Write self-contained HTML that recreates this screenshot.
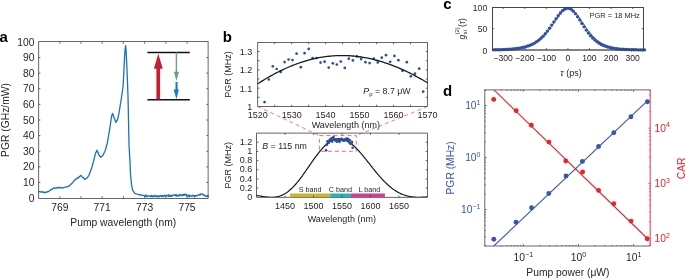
<!DOCTYPE html>
<html><head><meta charset="utf-8"><style>
html,body{margin:0;padding:0;background:#fff;overflow:hidden}
svg{display:block;font-family:"Liberation Sans", sans-serif;will-change:transform}
</style></head><body>
<svg width="685" height="278" viewBox="0 0 685 278" font-family='"Liberation Sans", sans-serif'>
<rect width="685" height="278" fill="#fff"/>
<rect x="38.70" y="41.50" width="169.40" height="157.00" fill="none" stroke="#404040" stroke-width="0.8"/>
<line x1="59.80" y1="198.10" x2="59.80" y2="196.30" stroke="#404040" stroke-width="0.8" />
<line x1="59.80" y1="41.90" x2="59.80" y2="43.70" stroke="#404040" stroke-width="0.8" />
<line x1="81.00" y1="198.10" x2="81.00" y2="196.30" stroke="#404040" stroke-width="0.8" />
<line x1="81.00" y1="41.90" x2="81.00" y2="43.70" stroke="#404040" stroke-width="0.8" />
<line x1="102.20" y1="198.10" x2="102.20" y2="196.30" stroke="#404040" stroke-width="0.8" />
<line x1="102.20" y1="41.90" x2="102.20" y2="43.70" stroke="#404040" stroke-width="0.8" />
<line x1="123.40" y1="198.10" x2="123.40" y2="196.30" stroke="#404040" stroke-width="0.8" />
<line x1="123.40" y1="41.90" x2="123.40" y2="43.70" stroke="#404040" stroke-width="0.8" />
<line x1="144.60" y1="198.10" x2="144.60" y2="196.30" stroke="#404040" stroke-width="0.8" />
<line x1="144.60" y1="41.90" x2="144.60" y2="43.70" stroke="#404040" stroke-width="0.8" />
<line x1="165.80" y1="198.10" x2="165.80" y2="196.30" stroke="#404040" stroke-width="0.8" />
<line x1="165.80" y1="41.90" x2="165.80" y2="43.70" stroke="#404040" stroke-width="0.8" />
<line x1="187.00" y1="198.10" x2="187.00" y2="196.30" stroke="#404040" stroke-width="0.8" />
<line x1="187.00" y1="41.90" x2="187.00" y2="43.70" stroke="#404040" stroke-width="0.8" />
<text x="59.80" y="211.10" font-size="10.3" text-anchor="middle" fill="#262626" font-weight="normal" font-style="normal" >769</text>
<text x="102.20" y="211.10" font-size="10.3" text-anchor="middle" fill="#262626" font-weight="normal" font-style="normal" >771</text>
<text x="144.60" y="211.10" font-size="10.3" text-anchor="middle" fill="#262626" font-weight="normal" font-style="normal" >773</text>
<text x="187.00" y="211.10" font-size="10.3" text-anchor="middle" fill="#262626" font-weight="normal" font-style="normal" >775</text>
<text x="34.40" y="201.70" font-size="10.3" text-anchor="end" fill="#262626" font-weight="normal" font-style="normal" >0</text>
<line x1="38.60" y1="182.48" x2="40.40" y2="182.48" stroke="#404040" stroke-width="0.8" />
<line x1="208.20" y1="182.48" x2="206.40" y2="182.48" stroke="#404040" stroke-width="0.8" />
<text x="34.40" y="186.08" font-size="10.3" text-anchor="end" fill="#262626" font-weight="normal" font-style="normal" >10</text>
<line x1="38.60" y1="166.86" x2="40.40" y2="166.86" stroke="#404040" stroke-width="0.8" />
<line x1="208.20" y1="166.86" x2="206.40" y2="166.86" stroke="#404040" stroke-width="0.8" />
<text x="34.40" y="170.46" font-size="10.3" text-anchor="end" fill="#262626" font-weight="normal" font-style="normal" >20</text>
<line x1="38.60" y1="151.24" x2="40.40" y2="151.24" stroke="#404040" stroke-width="0.8" />
<line x1="208.20" y1="151.24" x2="206.40" y2="151.24" stroke="#404040" stroke-width="0.8" />
<text x="34.40" y="154.84" font-size="10.3" text-anchor="end" fill="#262626" font-weight="normal" font-style="normal" >30</text>
<line x1="38.60" y1="135.62" x2="40.40" y2="135.62" stroke="#404040" stroke-width="0.8" />
<line x1="208.20" y1="135.62" x2="206.40" y2="135.62" stroke="#404040" stroke-width="0.8" />
<text x="34.40" y="139.22" font-size="10.3" text-anchor="end" fill="#262626" font-weight="normal" font-style="normal" >40</text>
<line x1="38.60" y1="120.00" x2="40.40" y2="120.00" stroke="#404040" stroke-width="0.8" />
<line x1="208.20" y1="120.00" x2="206.40" y2="120.00" stroke="#404040" stroke-width="0.8" />
<text x="34.40" y="123.60" font-size="10.3" text-anchor="end" fill="#262626" font-weight="normal" font-style="normal" >50</text>
<line x1="38.60" y1="104.38" x2="40.40" y2="104.38" stroke="#404040" stroke-width="0.8" />
<line x1="208.20" y1="104.38" x2="206.40" y2="104.38" stroke="#404040" stroke-width="0.8" />
<text x="34.40" y="107.98" font-size="10.3" text-anchor="end" fill="#262626" font-weight="normal" font-style="normal" >60</text>
<line x1="38.60" y1="88.76" x2="40.40" y2="88.76" stroke="#404040" stroke-width="0.8" />
<line x1="208.20" y1="88.76" x2="206.40" y2="88.76" stroke="#404040" stroke-width="0.8" />
<text x="34.40" y="92.36" font-size="10.3" text-anchor="end" fill="#262626" font-weight="normal" font-style="normal" >70</text>
<line x1="38.60" y1="73.14" x2="40.40" y2="73.14" stroke="#404040" stroke-width="0.8" />
<line x1="208.20" y1="73.14" x2="206.40" y2="73.14" stroke="#404040" stroke-width="0.8" />
<text x="34.40" y="76.74" font-size="10.3" text-anchor="end" fill="#262626" font-weight="normal" font-style="normal" >80</text>
<line x1="38.60" y1="57.52" x2="40.40" y2="57.52" stroke="#404040" stroke-width="0.8" />
<line x1="208.20" y1="57.52" x2="206.40" y2="57.52" stroke="#404040" stroke-width="0.8" />
<text x="34.40" y="61.12" font-size="10.3" text-anchor="end" fill="#262626" font-weight="normal" font-style="normal" >90</text>
<text x="34.40" y="45.50" font-size="10.3" text-anchor="end" fill="#262626" font-weight="normal" font-style="normal" >100</text>
<text x="123.30" y="226.10" font-size="10.3" text-anchor="middle" fill="#262626" font-weight="normal" font-style="normal" >Pump wavelength (nm)</text>
<text transform="translate(8.6,120) rotate(-90)" font-size="10.3" text-anchor="middle" fill="#262626">PGR (GHz/mW)</text>
<text x="-0.60" y="41.50" font-size="15" text-anchor="start" fill="#000" font-weight="bold" font-style="normal" >a</text>
<polyline points="38.60,191.40 39.08,191.28 39.56,191.68 40.04,191.64 40.52,191.97 41.00,192.00 41.50,192.17 42.00,191.72 42.50,191.73 43.00,192.53 43.50,192.07 44.00,192.10 44.50,192.40 44.96,192.76 45.41,192.20 45.87,192.45 46.33,192.04 46.79,192.10 47.24,191.57 47.70,191.80 48.17,191.62 48.63,191.53 49.10,190.92 49.57,190.82 50.03,190.45 50.50,190.00 51.02,189.33 51.54,189.67 52.06,189.24 52.58,188.70 53.10,188.60 53.64,188.02 54.18,188.61 54.72,188.10 55.26,188.16 55.80,187.80 56.25,188.09 56.70,187.89 57.15,188.03 57.60,187.51 58.05,187.82 58.50,187.50 58.98,187.49 59.46,187.98 59.93,187.97 60.41,187.32 60.89,187.39 61.37,187.51 61.84,188.23 62.32,187.80 62.80,187.90 63.26,187.89 63.71,187.46 64.17,187.52 64.63,187.28 65.09,187.12 65.54,187.21 66.00,187.00 66.50,186.88 67.00,186.96 67.50,186.56 68.00,186.59 68.50,186.00 68.97,186.05 69.45,185.89 69.93,185.33 70.40,184.90 70.93,184.00 71.45,184.02 71.97,183.52 72.50,182.50 73.05,182.21 73.60,181.26 74.15,180.74 74.70,179.90 75.16,179.34 75.61,179.60 76.07,179.07 76.53,178.51 76.99,178.01 77.44,178.42 77.90,177.80 78.37,177.93 78.84,176.80 79.31,177.13 79.79,176.46 80.26,175.91 80.73,175.73 81.20,175.60 81.80,176.48 82.40,177.20 83.00,177.50 83.50,177.59 84.00,178.60 84.50,178.59 85.00,179.50 85.60,179.20 86.20,178.35 86.80,178.00 87.28,177.74 87.75,177.23 88.22,176.20 88.70,175.60 89.27,174.68 89.83,172.70 90.40,171.50 90.93,169.62 91.47,168.59 92.00,167.00 92.47,164.83 92.95,163.23 93.43,161.67 93.90,160.00 94.40,158.10 94.90,155.69 95.40,154.00 95.90,152.32 96.40,151.80 96.90,150.20 97.45,151.18 98.00,152.50 98.55,154.21 99.10,155.10 99.67,156.19 100.23,156.46 100.80,157.30 101.35,156.71 101.90,156.22 102.45,155.78 103.00,155.10 103.53,154.11 104.05,153.00 104.57,151.98 105.10,150.80 105.65,149.30 106.20,147.01 106.75,145.04 107.30,143.20 107.85,140.17 108.40,136.51 108.95,133.35 109.50,130.30 110.03,127.21 110.55,123.27 111.07,119.77 111.60,116.20 112.15,114.36 112.70,113.40 113.20,114.99 113.70,116.81 114.20,118.40 114.73,119.23 115.27,121.04 115.80,122.20 116.37,121.59 116.93,120.34 117.50,120.00 118.05,117.61 118.60,115.00 119.05,112.42 119.50,109.90 119.95,107.11 120.40,104.00 121.10,100.00 122.30,92.00 123.20,85.00 123.90,70.00 124.60,56.00 125.20,48.50 125.60,45.60 126.00,49.00 126.40,57.00 127.00,70.00 127.60,85.00 128.10,100.00 128.50,120.00 129.00,145.00 129.90,160.00 130.50,174.40 131.50,184.40 132.60,190.20 134.80,193.30 138.40,194.50 144.10,195.60 144.40,195.56 144.80,196.23 145.20,196.32 145.60,195.07 146.00,195.17 146.40,196.31 146.80,196.86 147.20,195.61 147.60,196.02 148.00,196.30 148.40,195.84 148.80,195.95 149.20,195.90 149.60,196.03 150.00,196.47 150.40,195.94 150.80,196.07 151.20,196.78 151.60,195.43 152.00,196.40 152.40,196.70 152.80,195.93 153.20,195.77 153.60,196.81 154.00,195.79 154.40,195.69 154.80,196.14 155.20,196.60 155.60,195.53 156.00,195.92 156.40,195.94 156.80,196.83 157.20,196.12 157.60,196.86 158.00,195.62 158.40,195.92 158.80,196.48 159.20,196.90 159.60,196.12 160.00,195.71 160.40,195.49 160.80,196.19 161.20,195.55 161.60,196.63 162.00,196.66 162.40,195.45 162.80,195.59 163.20,196.51 163.60,196.19 164.00,196.45 164.40,195.59 164.80,195.17 165.20,195.44 165.60,196.31 166.00,195.34 166.40,195.44 166.80,195.54 167.20,195.52 167.60,195.47 168.00,196.36 168.40,194.97 168.80,194.69 169.20,196.36 169.60,196.24 170.00,196.42 170.40,195.41 170.80,196.33 171.20,196.28 171.60,195.00 172.00,195.93 172.40,196.08 172.80,195.76 173.20,195.49 173.60,195.06 174.00,195.14 174.40,194.93 174.80,194.63 175.20,195.55 175.60,195.00 176.00,195.93 176.40,194.53 176.80,196.07 177.20,195.68 177.60,196.08 178.00,196.01 178.40,196.01 178.80,195.41 179.20,194.38 179.60,195.69 180.00,194.64 180.40,194.86 180.80,195.50 181.20,195.21 181.60,194.94 182.00,195.82 182.40,195.16 182.80,194.60 183.20,194.37 183.60,195.40 184.00,194.63 184.40,195.11 184.80,194.27 185.20,194.04 185.60,194.80 186.00,195.47 186.40,194.47 186.80,195.75 187.20,196.14 187.60,196.09 188.00,196.28 188.40,194.97 188.80,196.25 189.20,196.76 189.60,195.30 190.00,195.71 190.40,195.71 190.80,196.18 191.20,196.00 191.60,196.09 192.00,196.65 192.40,195.26 192.80,195.36 193.20,195.50 193.60,195.50 194.00,195.41 194.40,197.04 194.80,196.83 195.20,195.41 195.60,196.05 196.00,195.62 196.40,195.52 196.80,195.48 197.20,195.91 197.60,195.71 198.00,195.20 198.40,194.79 198.80,194.94 199.20,194.45 199.60,195.09 200.00,195.24 200.40,194.49 200.80,193.81 201.20,193.84 201.60,194.05 202.00,194.33 202.40,194.51 202.80,194.04 203.20,195.06 203.60,195.00 204.00,194.91 204.40,195.06 204.80,195.54 205.20,196.17 205.60,195.87 206.00,196.40 206.40,196.03 206.80,195.69 207.20,196.25 207.60,196.58 208.00,195.51 208.20,196.30" fill="none" stroke="#1a72bd" stroke-width="1.3" stroke-linejoin="round" stroke-linecap="round" />
<line x1="147.40" y1="52.50" x2="189.80" y2="52.50" stroke="#111" stroke-width="1.5" />
<line x1="147.40" y1="99.80" x2="189.80" y2="99.80" stroke="#111" stroke-width="1.5" />
<rect x="156.4" y="67.5" width="3.7" height="32" fill="#c61f33"/>
<polygon points="153.9,68.8 162.8,68.8 158.3,53.8" fill="#c61f33"/>
<rect x="175.7" y="52.5" width="1.4" height="20" fill="#6ea07d"/>
<polygon points="173.9,71.8 179,71.8 176.4,81" fill="#6ea07d"/>
<rect x="175.5" y="82" width="2.1" height="8.5" fill="#1f78c8"/>
<polygon points="173.6,89.6 178.9,89.6 176.4,99.2" fill="#1f78c8"/>
<text x="222.80" y="41.70" font-size="15" text-anchor="start" fill="#000" font-weight="bold" font-style="normal" >b</text>
<rect x="319.4" y="135.6" width="36.90" height="15.70" fill="none" stroke="#f15a63" stroke-width="0.9" stroke-dasharray="4,3"/>
<line x1="257.70" y1="106.50" x2="319.40" y2="135.60" stroke="#f15a63" stroke-width="0.8" stroke-dasharray="4,3"/>
<line x1="427.50" y1="106.50" x2="356.30" y2="135.60" stroke="#f15a63" stroke-width="0.8" stroke-dasharray="4,3"/>
<rect x="257.70" y="42.40" width="169.80" height="64.10" fill="none" stroke="#404040" stroke-width="0.8"/>
<line x1="274.68" y1="106.50" x2="274.68" y2="104.70" stroke="#404040" stroke-width="0.8" />
<line x1="274.68" y1="42.40" x2="274.68" y2="44.20" stroke="#404040" stroke-width="0.8" />
<line x1="291.66" y1="106.50" x2="291.66" y2="104.70" stroke="#404040" stroke-width="0.8" />
<line x1="291.66" y1="42.40" x2="291.66" y2="44.20" stroke="#404040" stroke-width="0.8" />
<line x1="308.64" y1="106.50" x2="308.64" y2="104.70" stroke="#404040" stroke-width="0.8" />
<line x1="308.64" y1="42.40" x2="308.64" y2="44.20" stroke="#404040" stroke-width="0.8" />
<line x1="325.62" y1="106.50" x2="325.62" y2="104.70" stroke="#404040" stroke-width="0.8" />
<line x1="325.62" y1="42.40" x2="325.62" y2="44.20" stroke="#404040" stroke-width="0.8" />
<line x1="342.60" y1="106.50" x2="342.60" y2="104.70" stroke="#404040" stroke-width="0.8" />
<line x1="342.60" y1="42.40" x2="342.60" y2="44.20" stroke="#404040" stroke-width="0.8" />
<line x1="359.58" y1="106.50" x2="359.58" y2="104.70" stroke="#404040" stroke-width="0.8" />
<line x1="359.58" y1="42.40" x2="359.58" y2="44.20" stroke="#404040" stroke-width="0.8" />
<line x1="376.56" y1="106.50" x2="376.56" y2="104.70" stroke="#404040" stroke-width="0.8" />
<line x1="376.56" y1="42.40" x2="376.56" y2="44.20" stroke="#404040" stroke-width="0.8" />
<line x1="393.54" y1="106.50" x2="393.54" y2="104.70" stroke="#404040" stroke-width="0.8" />
<line x1="393.54" y1="42.40" x2="393.54" y2="44.20" stroke="#404040" stroke-width="0.8" />
<line x1="410.52" y1="106.50" x2="410.52" y2="104.70" stroke="#404040" stroke-width="0.8" />
<line x1="410.52" y1="42.40" x2="410.52" y2="44.20" stroke="#404040" stroke-width="0.8" />
<line x1="257.70" y1="97.34" x2="259.50" y2="97.34" stroke="#404040" stroke-width="0.8" />
<line x1="427.50" y1="97.34" x2="425.70" y2="97.34" stroke="#404040" stroke-width="0.8" />
<line x1="257.70" y1="88.18" x2="259.50" y2="88.18" stroke="#404040" stroke-width="0.8" />
<line x1="427.50" y1="88.18" x2="425.70" y2="88.18" stroke="#404040" stroke-width="0.8" />
<line x1="257.70" y1="79.02" x2="259.50" y2="79.02" stroke="#404040" stroke-width="0.8" />
<line x1="427.50" y1="79.02" x2="425.70" y2="79.02" stroke="#404040" stroke-width="0.8" />
<line x1="257.70" y1="69.86" x2="259.50" y2="69.86" stroke="#404040" stroke-width="0.8" />
<line x1="427.50" y1="69.86" x2="425.70" y2="69.86" stroke="#404040" stroke-width="0.8" />
<line x1="257.70" y1="60.70" x2="259.50" y2="60.70" stroke="#404040" stroke-width="0.8" />
<line x1="427.50" y1="60.70" x2="425.70" y2="60.70" stroke="#404040" stroke-width="0.8" />
<line x1="257.70" y1="51.54" x2="259.50" y2="51.54" stroke="#404040" stroke-width="0.8" />
<line x1="427.50" y1="51.54" x2="425.70" y2="51.54" stroke="#404040" stroke-width="0.8" />
<text x="257.70" y="118.00" font-size="9.0" text-anchor="middle" fill="#262626" font-weight="normal" font-style="normal" >1520</text>
<text x="291.66" y="118.00" font-size="9.0" text-anchor="middle" fill="#262626" font-weight="normal" font-style="normal" >1530</text>
<text x="325.62" y="118.00" font-size="9.0" text-anchor="middle" fill="#262626" font-weight="normal" font-style="normal" >1540</text>
<text x="359.58" y="118.00" font-size="9.0" text-anchor="middle" fill="#262626" font-weight="normal" font-style="normal" >1550</text>
<text x="393.54" y="118.00" font-size="9.0" text-anchor="middle" fill="#262626" font-weight="normal" font-style="normal" >1560</text>
<text x="427.50" y="118.00" font-size="9.0" text-anchor="middle" fill="#262626" font-weight="normal" font-style="normal" >1570</text>
<text x="252.30" y="110.00" font-size="9.0" text-anchor="end" fill="#262626" font-weight="normal" font-style="normal" >1</text>
<text x="252.30" y="91.68" font-size="9.0" text-anchor="end" fill="#262626" font-weight="normal" font-style="normal" >1.1</text>
<text x="252.30" y="73.36" font-size="9.0" text-anchor="end" fill="#262626" font-weight="normal" font-style="normal" >1.2</text>
<text x="252.30" y="55.04" font-size="9.0" text-anchor="end" fill="#262626" font-weight="normal" font-style="normal" >1.3</text>
<text x="345.80" y="128.40" font-size="9.0" text-anchor="middle" fill="#262626" font-weight="normal" font-style="normal" >Wavelength (nm)</text>
<text transform="translate(231.2,74.5) rotate(-90)" font-size="9.0" text-anchor="middle" fill="#262626">PGR (MHz)</text>
<circle cx="264.60" cy="102.10" r="1.35" fill="#2b4ea8"/>
<circle cx="268.80" cy="79.50" r="1.35" fill="#2b4ea8"/>
<circle cx="272.80" cy="66.30" r="1.35" fill="#2b4ea8"/>
<circle cx="276.70" cy="69.00" r="1.35" fill="#2b4ea8"/>
<circle cx="280.70" cy="71.90" r="1.35" fill="#2b4ea8"/>
<circle cx="284.60" cy="62.10" r="1.35" fill="#2b4ea8"/>
<circle cx="288.60" cy="59.50" r="1.35" fill="#2b4ea8"/>
<circle cx="292.50" cy="60.10" r="1.35" fill="#2b4ea8"/>
<circle cx="296.60" cy="53.70" r="1.35" fill="#2b4ea8"/>
<circle cx="300.80" cy="67.20" r="1.35" fill="#2b4ea8"/>
<circle cx="304.60" cy="53.20" r="1.35" fill="#2b4ea8"/>
<circle cx="308.70" cy="48.90" r="1.35" fill="#2b4ea8"/>
<circle cx="312.60" cy="58.10" r="1.35" fill="#2b4ea8"/>
<circle cx="316.60" cy="58.00" r="1.35" fill="#2b4ea8"/>
<circle cx="320.60" cy="62.60" r="1.35" fill="#2b4ea8"/>
<circle cx="324.60" cy="61.70" r="1.35" fill="#2b4ea8"/>
<circle cx="328.70" cy="67.60" r="1.35" fill="#2b4ea8"/>
<circle cx="332.80" cy="63.30" r="1.35" fill="#2b4ea8"/>
<circle cx="336.80" cy="64.60" r="1.35" fill="#2b4ea8"/>
<circle cx="340.80" cy="61.60" r="1.35" fill="#2b4ea8"/>
<circle cx="344.80" cy="67.90" r="1.35" fill="#2b4ea8"/>
<circle cx="348.80" cy="58.70" r="1.35" fill="#2b4ea8"/>
<circle cx="352.90" cy="60.40" r="1.35" fill="#2b4ea8"/>
<circle cx="356.90" cy="56.40" r="1.35" fill="#2b4ea8"/>
<circle cx="361.10" cy="59.10" r="1.35" fill="#2b4ea8"/>
<circle cx="365.40" cy="62.20" r="1.35" fill="#2b4ea8"/>
<circle cx="369.60" cy="63.10" r="1.35" fill="#2b4ea8"/>
<circle cx="373.80" cy="58.70" r="1.35" fill="#2b4ea8"/>
<circle cx="377.80" cy="62.40" r="1.35" fill="#2b4ea8"/>
<circle cx="381.80" cy="57.70" r="1.35" fill="#2b4ea8"/>
<circle cx="386.00" cy="55.20" r="1.35" fill="#2b4ea8"/>
<circle cx="390.20" cy="61.80" r="1.35" fill="#2b4ea8"/>
<circle cx="394.40" cy="55.90" r="1.35" fill="#2b4ea8"/>
<circle cx="398.40" cy="60.20" r="1.35" fill="#2b4ea8"/>
<circle cx="402.50" cy="70.80" r="1.35" fill="#2b4ea8"/>
<circle cx="406.80" cy="62.20" r="1.35" fill="#2b4ea8"/>
<circle cx="410.80" cy="76.30" r="1.35" fill="#2b4ea8"/>
<circle cx="415.00" cy="73.70" r="1.35" fill="#2b4ea8"/>
<circle cx="419.20" cy="68.70" r="1.35" fill="#2b4ea8"/>
<circle cx="423.20" cy="91.70" r="1.35" fill="#2b4ea8"/>
<clipPath id="cb1"><rect x="257.70" y="42.40" width="169.80" height="64.10"/></clipPath>
<polyline points="257.70,83.80 259.40,82.71 261.10,81.64 262.79,80.59 264.49,79.56 266.19,78.55 267.89,77.55 269.59,76.58 271.28,75.63 272.98,74.70 274.68,73.78 276.38,72.89 278.08,72.02 279.77,71.17 281.47,70.34 283.17,69.54 284.87,68.75 286.57,67.99 288.26,67.24 289.96,66.52 291.66,65.82 293.36,65.15 295.06,64.49 296.75,63.86 298.45,63.25 300.15,62.67 301.85,62.10 303.55,61.56 305.24,61.04 306.94,60.55 308.64,60.08 310.34,59.63 312.04,59.20 313.73,58.80 315.43,58.42 317.13,58.06 318.83,57.73 320.53,57.42 322.22,57.13 323.92,56.87 325.62,56.63 327.32,56.42 329.02,56.23 330.71,56.06 332.41,55.91 334.11,55.79 335.81,55.69 337.51,55.62 339.20,55.57 340.90,55.54 342.60,55.53 344.30,55.55 346.00,55.60 347.69,55.66 349.39,55.75 351.09,55.86 352.79,56.00 354.49,56.15 356.18,56.33 357.88,56.54 359.58,56.76 361.28,57.01 362.98,57.28 364.67,57.58 366.37,57.89 368.07,58.23 369.77,58.59 371.47,58.97 373.16,59.37 374.86,59.80 376.56,60.25 378.26,60.71 379.96,61.20 381.65,61.71 383.35,62.24 385.05,62.79 386.75,63.37 388.45,63.96 390.14,64.57 391.84,65.20 393.54,65.86 395.24,66.53 396.94,67.22 398.63,67.93 400.33,68.66 402.03,69.41 403.73,70.18 405.43,70.96 407.12,71.77 408.82,72.59 410.52,73.43 412.22,74.29 413.92,75.16 415.61,76.05 417.31,76.96 419.01,77.89 420.71,78.83 422.41,79.79 424.10,80.76 425.80,81.75 427.50,82.76" fill="none" stroke="#1a1a1a" stroke-width="1.3" stroke-linejoin="round" stroke-linecap="round" clip-path="url(#cb1)"/>
<rect x="256.60" y="133.10" width="170.80" height="64.20" fill="none" stroke="#404040" stroke-width="0.8"/>
<line x1="285.07" y1="197.30" x2="285.07" y2="195.50" stroke="#404040" stroke-width="0.8" />
<line x1="285.07" y1="133.10" x2="285.07" y2="134.90" stroke="#404040" stroke-width="0.8" />
<line x1="313.53" y1="197.30" x2="313.53" y2="195.50" stroke="#404040" stroke-width="0.8" />
<line x1="313.53" y1="133.10" x2="313.53" y2="134.90" stroke="#404040" stroke-width="0.8" />
<line x1="342.00" y1="197.30" x2="342.00" y2="195.50" stroke="#404040" stroke-width="0.8" />
<line x1="342.00" y1="133.10" x2="342.00" y2="134.90" stroke="#404040" stroke-width="0.8" />
<line x1="370.47" y1="197.30" x2="370.47" y2="195.50" stroke="#404040" stroke-width="0.8" />
<line x1="370.47" y1="133.10" x2="370.47" y2="134.90" stroke="#404040" stroke-width="0.8" />
<line x1="398.93" y1="197.30" x2="398.93" y2="195.50" stroke="#404040" stroke-width="0.8" />
<line x1="398.93" y1="133.10" x2="398.93" y2="134.90" stroke="#404040" stroke-width="0.8" />
<line x1="256.60" y1="188.13" x2="258.40" y2="188.13" stroke="#404040" stroke-width="0.8" />
<line x1="427.40" y1="188.13" x2="425.60" y2="188.13" stroke="#404040" stroke-width="0.8" />
<line x1="256.60" y1="178.96" x2="258.40" y2="178.96" stroke="#404040" stroke-width="0.8" />
<line x1="427.40" y1="178.96" x2="425.60" y2="178.96" stroke="#404040" stroke-width="0.8" />
<line x1="256.60" y1="169.79" x2="258.40" y2="169.79" stroke="#404040" stroke-width="0.8" />
<line x1="427.40" y1="169.79" x2="425.60" y2="169.79" stroke="#404040" stroke-width="0.8" />
<line x1="256.60" y1="160.61" x2="258.40" y2="160.61" stroke="#404040" stroke-width="0.8" />
<line x1="427.40" y1="160.61" x2="425.60" y2="160.61" stroke="#404040" stroke-width="0.8" />
<line x1="256.60" y1="151.44" x2="258.40" y2="151.44" stroke="#404040" stroke-width="0.8" />
<line x1="427.40" y1="151.44" x2="425.60" y2="151.44" stroke="#404040" stroke-width="0.8" />
<line x1="256.60" y1="142.27" x2="258.40" y2="142.27" stroke="#404040" stroke-width="0.8" />
<line x1="427.40" y1="142.27" x2="425.60" y2="142.27" stroke="#404040" stroke-width="0.8" />
<text x="285.07" y="208.60" font-size="9.0" text-anchor="middle" fill="#262626" font-weight="normal" font-style="normal" >1450</text>
<text x="313.53" y="208.60" font-size="9.0" text-anchor="middle" fill="#262626" font-weight="normal" font-style="normal" >1500</text>
<text x="342.00" y="208.60" font-size="9.0" text-anchor="middle" fill="#262626" font-weight="normal" font-style="normal" >1550</text>
<text x="370.47" y="208.60" font-size="9.0" text-anchor="middle" fill="#262626" font-weight="normal" font-style="normal" >1600</text>
<text x="398.93" y="208.60" font-size="9.0" text-anchor="middle" fill="#262626" font-weight="normal" font-style="normal" >1650</text>
<text x="252.30" y="200.00" font-size="9.0" text-anchor="end" fill="#262626" font-weight="normal" font-style="normal" >0</text>
<text x="252.30" y="190.83" font-size="9.0" text-anchor="end" fill="#262626" font-weight="normal" font-style="normal" >0.2</text>
<text x="252.30" y="181.66" font-size="9.0" text-anchor="end" fill="#262626" font-weight="normal" font-style="normal" >0.4</text>
<text x="252.30" y="172.49" font-size="9.0" text-anchor="end" fill="#262626" font-weight="normal" font-style="normal" >0.6</text>
<text x="252.30" y="163.31" font-size="9.0" text-anchor="end" fill="#262626" font-weight="normal" font-style="normal" >0.8</text>
<text x="252.30" y="154.14" font-size="9.0" text-anchor="end" fill="#262626" font-weight="normal" font-style="normal" >1</text>
<text x="252.30" y="144.97" font-size="9.0" text-anchor="end" fill="#262626" font-weight="normal" font-style="normal" >1.2</text>
<text x="341.80" y="222.20" font-size="9.0" text-anchor="middle" fill="#262626" font-weight="normal" font-style="normal" >Wavelength (nm)</text>
<text transform="translate(231.2,165.2) rotate(-90)" font-size="9.0" text-anchor="middle" fill="#262626">PGR (MHz)</text>
<rect x="290.1" y="193.5" width="40.10" height="3.6" fill="#d2b22a"/>
<rect x="330.2" y="193.5" width="20.60" height="3.6" fill="#1cb6c9"/>
<rect x="350.8" y="193.5" width="34.10" height="3.6" fill="#d93b8c"/>
<line x1="313.53" y1="197.30" x2="313.53" y2="195.50" stroke="#404040" stroke-width="0.8" />
<line x1="342.00" y1="197.30" x2="342.00" y2="195.50" stroke="#404040" stroke-width="0.8" />
<line x1="370.47" y1="197.30" x2="370.47" y2="195.50" stroke="#404040" stroke-width="0.8" />
<text x="310.10" y="191.90" font-size="7.2" text-anchor="middle" fill="#262626" font-weight="normal" font-style="normal" >S band</text>
<text x="340.40" y="191.90" font-size="7.2" text-anchor="middle" fill="#262626" font-weight="normal" font-style="normal" >C band</text>
<text x="369.30" y="191.90" font-size="7.2" text-anchor="middle" fill="#262626" font-weight="normal" font-style="normal" >L band</text>
<clipPath id="cb2"><rect x="256.60" y="133.10" width="170.80" height="64.20"/></clipPath>
<polyline points="256.60,195.46 257.17,195.54 257.74,195.63 258.31,195.72 258.88,195.82 259.45,195.91 260.02,196.00 260.59,196.10 261.15,196.19 261.72,196.29 262.29,196.38 262.86,196.47 263.43,196.56 264.00,196.64 264.57,196.73 265.14,196.81 265.71,196.88 266.28,196.95 266.85,197.02 267.42,197.08 267.99,197.13 268.56,197.18 269.13,197.22 269.69,197.25 270.26,197.28 270.83,197.29 271.40,197.30 271.97,197.30 272.54,197.28 273.11,197.26 273.68,197.22 274.25,197.18 274.82,197.12 275.39,197.05 275.96,196.97 276.53,196.87 277.10,196.76 277.67,196.63 278.23,196.49 278.80,196.34 279.37,196.17 279.94,195.98 280.51,195.78 281.08,195.57 281.65,195.33 282.22,195.08 282.79,194.82 283.36,194.53 283.93,194.23 284.50,193.92 285.07,193.58 285.64,193.23 286.21,192.86 286.77,192.47 287.34,192.07 287.91,191.65 288.48,191.21 289.05,190.75 289.62,190.28 290.19,189.79 290.76,189.28 291.33,188.76 291.90,188.22 292.47,187.66 293.04,187.09 293.61,186.50 294.18,185.89 294.75,185.27 295.31,184.64 295.88,183.99 296.45,183.33 297.02,182.65 297.59,181.96 298.16,181.26 298.73,180.55 299.30,179.82 299.87,179.09 300.44,178.34 301.01,177.58 301.58,176.81 302.15,176.04 302.72,175.26 303.29,174.46 303.85,173.67 304.42,172.86 304.99,172.05 305.56,171.24 306.13,170.42 306.70,169.60 307.27,168.77 307.84,167.94 308.41,167.12 308.98,166.29 309.55,165.46 310.12,164.63 310.69,163.80 311.26,162.98 311.83,162.16 312.39,161.34 312.96,160.53 313.53,159.72 314.10,158.92 314.67,158.13 315.24,157.34 315.81,156.56 316.38,155.79 316.95,155.03 317.52,154.28 318.09,153.54 318.66,152.81 319.23,152.10 319.80,151.40 320.37,150.71 320.93,150.03 321.50,149.37 322.07,148.73 322.64,148.10 323.21,147.49 323.78,146.90 324.35,146.32 324.92,145.76 325.49,145.22 326.06,144.70 326.63,144.20 327.20,143.72 327.77,143.25 328.34,142.81 328.91,142.39 329.47,141.99 330.04,141.62 330.61,141.26 331.18,140.93 331.75,140.62 332.32,140.33 332.89,140.06 333.46,139.82 334.03,139.60 334.60,139.41 335.17,139.23 335.74,139.09 336.31,138.96 336.88,138.86 337.45,138.78 338.01,138.73 338.58,138.69 339.15,138.69 339.72,138.70 340.29,138.74 340.86,138.80 341.43,138.89 342.00,138.99 342.57,139.12 343.14,139.28 343.71,139.45 344.28,139.65 344.85,139.86 345.42,140.10 345.99,140.36 346.55,140.65 347.12,140.95 347.69,141.27 348.26,141.61 348.83,141.97 349.40,142.35 349.97,142.75 350.54,143.16 351.11,143.60 351.68,144.05 352.25,144.52 352.82,145.00 353.39,145.50 353.96,146.01 354.53,146.54 355.09,147.09 355.66,147.64 356.23,148.22 356.80,148.80 357.37,149.39 357.94,150.00 358.51,150.62 359.08,151.25 359.65,151.89 360.22,152.53 360.79,153.19 361.36,153.85 361.93,154.53 362.50,155.21 363.07,155.89 363.63,156.58 364.20,157.28 364.77,157.98 365.34,158.69 365.91,159.40 366.48,160.11 367.05,160.83 367.62,161.55 368.19,162.27 368.76,162.99 369.33,163.71 369.90,164.44 370.47,165.16 371.04,165.88 371.61,166.60 372.17,167.32 372.74,168.03 373.31,168.75 373.88,169.45 374.45,170.16 375.02,170.86 375.59,171.56 376.16,172.25 376.73,172.94 377.30,173.62 377.87,174.30 378.44,174.97 379.01,175.63 379.58,176.28 380.15,176.93 380.71,177.57 381.28,178.20 381.85,178.83 382.42,179.44 382.99,180.05 383.56,180.64 384.13,181.23 384.70,181.81 385.27,182.38 385.84,182.94 386.41,183.48 386.98,184.02 387.55,184.55 388.12,185.07 388.69,185.57 389.25,186.07 389.82,186.55 390.39,187.02 390.96,187.49 391.53,187.94 392.10,188.37 392.67,188.80 393.24,189.22 393.81,189.62 394.38,190.02 394.95,190.40 395.52,190.77 396.09,191.13 396.66,191.48 397.23,191.81 397.79,192.14 398.36,192.45 398.93,192.75 399.50,193.04 400.07,193.32 400.64,193.59 401.21,193.85 401.78,194.10 402.35,194.34 402.92,194.56 403.49,194.78 404.06,194.98 404.63,195.18 405.20,195.36 405.77,195.54 406.33,195.71 406.90,195.86 407.47,196.01 408.04,196.15 408.61,196.28 409.18,196.40 409.75,196.51 410.32,196.61 410.89,196.71 411.46,196.80 412.03,196.88 412.60,196.95 413.17,197.01 413.74,197.07 414.31,197.12 414.87,197.16 415.44,197.20 416.01,197.23 416.58,197.26 417.15,197.28 417.72,197.29 418.29,197.30 418.86,197.30 419.43,197.30 420.00,197.29 420.57,197.28 421.14,197.26 421.71,197.24 422.28,197.22 422.85,197.19 423.41,197.16 423.98,197.12 424.55,197.09 425.12,197.04 425.69,197.00 426.26,196.95 426.83,196.91 427.40,196.85" fill="none" stroke="#1a1a1a" stroke-width="1.2" stroke-linejoin="round" stroke-linecap="round" clip-path="url(#cb2)"/>
<circle cx="326.08" cy="150.34" r="1.35" fill="#2b4ea8"/>
<circle cx="326.78" cy="144.68" r="1.35" fill="#2b4ea8"/>
<circle cx="327.45" cy="141.38" r="1.35" fill="#2b4ea8"/>
<circle cx="328.11" cy="142.06" r="1.35" fill="#2b4ea8"/>
<circle cx="328.78" cy="142.78" r="1.35" fill="#2b4ea8"/>
<circle cx="329.43" cy="140.33" r="1.35" fill="#2b4ea8"/>
<circle cx="330.10" cy="139.68" r="1.35" fill="#2b4ea8"/>
<circle cx="330.75" cy="139.83" r="1.35" fill="#2b4ea8"/>
<circle cx="331.44" cy="138.23" r="1.35" fill="#2b4ea8"/>
<circle cx="332.15" cy="141.61" r="1.35" fill="#2b4ea8"/>
<circle cx="332.78" cy="138.10" r="1.35" fill="#2b4ea8"/>
<circle cx="333.47" cy="137.02" r="1.35" fill="#2b4ea8"/>
<circle cx="334.12" cy="139.33" r="1.35" fill="#2b4ea8"/>
<circle cx="334.79" cy="139.30" r="1.35" fill="#2b4ea8"/>
<circle cx="335.47" cy="140.45" r="1.35" fill="#2b4ea8"/>
<circle cx="336.14" cy="140.23" r="1.35" fill="#2b4ea8"/>
<circle cx="336.82" cy="141.71" r="1.35" fill="#2b4ea8"/>
<circle cx="337.51" cy="140.63" r="1.35" fill="#2b4ea8"/>
<circle cx="338.18" cy="140.95" r="1.35" fill="#2b4ea8"/>
<circle cx="338.85" cy="140.20" r="1.35" fill="#2b4ea8"/>
<circle cx="339.52" cy="141.78" r="1.35" fill="#2b4ea8"/>
<circle cx="340.19" cy="139.48" r="1.35" fill="#2b4ea8"/>
<circle cx="340.88" cy="139.90" r="1.35" fill="#2b4ea8"/>
<circle cx="341.55" cy="138.90" r="1.35" fill="#2b4ea8"/>
<circle cx="342.25" cy="139.58" r="1.35" fill="#2b4ea8"/>
<circle cx="342.98" cy="140.35" r="1.35" fill="#2b4ea8"/>
<circle cx="343.68" cy="140.58" r="1.35" fill="#2b4ea8"/>
<circle cx="344.38" cy="139.48" r="1.35" fill="#2b4ea8"/>
<circle cx="345.05" cy="140.40" r="1.35" fill="#2b4ea8"/>
<circle cx="345.73" cy="139.23" r="1.35" fill="#2b4ea8"/>
<circle cx="346.43" cy="138.60" r="1.35" fill="#2b4ea8"/>
<circle cx="347.13" cy="140.25" r="1.35" fill="#2b4ea8"/>
<circle cx="347.84" cy="138.78" r="1.35" fill="#2b4ea8"/>
<circle cx="348.51" cy="139.85" r="1.35" fill="#2b4ea8"/>
<circle cx="349.20" cy="142.51" r="1.35" fill="#2b4ea8"/>
<circle cx="349.92" cy="140.35" r="1.35" fill="#2b4ea8"/>
<circle cx="350.59" cy="143.88" r="1.35" fill="#2b4ea8"/>
<circle cx="351.29" cy="143.23" r="1.35" fill="#2b4ea8"/>
<circle cx="352.00" cy="141.98" r="1.35" fill="#2b4ea8"/>
<circle cx="352.67" cy="147.74" r="1.35" fill="#2b4ea8"/>
<text x="262.3" y="149.4" font-size="8.8" fill="#262626"><tspan font-style="italic">B</tspan> = 115 nm</text>
<text x="363.3" y="94.3" font-size="8.8" fill="#262626"><tspan font-style="italic">P</tspan><tspan font-size="6" dy="1.8">p</tspan><tspan dy="-1.8"> = 8.7 μW</tspan></text>
<text x="443.20" y="8.90" font-size="15" text-anchor="start" fill="#000" font-weight="bold" font-style="normal" >c</text>
<rect x="492.40" y="7.50" width="151.00" height="42.50" fill="none" stroke="#404040" stroke-width="0.8"/>
<line x1="503.19" y1="50.00" x2="503.19" y2="48.20" stroke="#404040" stroke-width="0.8" />
<line x1="503.19" y1="7.20" x2="503.19" y2="9.00" stroke="#404040" stroke-width="0.8" />
<text x="503.19" y="61.40" font-size="8.6" text-anchor="middle" fill="#262626" font-weight="normal" font-style="normal" >−300</text>
<line x1="524.76" y1="50.00" x2="524.76" y2="48.20" stroke="#404040" stroke-width="0.8" />
<line x1="524.76" y1="7.20" x2="524.76" y2="9.00" stroke="#404040" stroke-width="0.8" />
<text x="524.76" y="61.40" font-size="8.6" text-anchor="middle" fill="#262626" font-weight="normal" font-style="normal" >−200</text>
<line x1="546.33" y1="50.00" x2="546.33" y2="48.20" stroke="#404040" stroke-width="0.8" />
<line x1="546.33" y1="7.20" x2="546.33" y2="9.00" stroke="#404040" stroke-width="0.8" />
<text x="546.33" y="61.40" font-size="8.6" text-anchor="middle" fill="#262626" font-weight="normal" font-style="normal" >−100</text>
<line x1="567.90" y1="50.00" x2="567.90" y2="48.20" stroke="#404040" stroke-width="0.8" />
<line x1="567.90" y1="7.20" x2="567.90" y2="9.00" stroke="#404040" stroke-width="0.8" />
<text x="567.90" y="61.40" font-size="8.6" text-anchor="middle" fill="#262626" font-weight="normal" font-style="normal" >0</text>
<line x1="589.47" y1="50.00" x2="589.47" y2="48.20" stroke="#404040" stroke-width="0.8" />
<line x1="589.47" y1="7.20" x2="589.47" y2="9.00" stroke="#404040" stroke-width="0.8" />
<text x="589.47" y="61.40" font-size="8.6" text-anchor="middle" fill="#262626" font-weight="normal" font-style="normal" >100</text>
<line x1="611.04" y1="50.00" x2="611.04" y2="48.20" stroke="#404040" stroke-width="0.8" />
<line x1="611.04" y1="7.20" x2="611.04" y2="9.00" stroke="#404040" stroke-width="0.8" />
<text x="611.04" y="61.40" font-size="8.6" text-anchor="middle" fill="#262626" font-weight="normal" font-style="normal" >200</text>
<line x1="632.61" y1="50.00" x2="632.61" y2="48.20" stroke="#404040" stroke-width="0.8" />
<line x1="632.61" y1="7.20" x2="632.61" y2="9.00" stroke="#404040" stroke-width="0.8" />
<text x="632.61" y="61.40" font-size="8.6" text-anchor="middle" fill="#262626" font-weight="normal" font-style="normal" >300</text>
<text x="487.20" y="53.80" font-size="8.6" text-anchor="end" fill="#262626" font-weight="normal" font-style="normal" >0</text>
<line x1="492.40" y1="28.60" x2="494.20" y2="28.60" stroke="#404040" stroke-width="0.8" />
<line x1="643.40" y1="28.60" x2="641.60" y2="28.60" stroke="#404040" stroke-width="0.8" />
<text x="487.20" y="32.40" font-size="8.6" text-anchor="end" fill="#262626" font-weight="normal" font-style="normal" >50</text>
<text x="487.20" y="11.00" font-size="8.6" text-anchor="end" fill="#262626" font-weight="normal" font-style="normal" >100</text>
<text x="571.0" y="75.6" font-size="9" text-anchor="middle" fill="#262626"><tspan font-style="italic">τ</tspan> (ps)</text>
<text transform="translate(465,39.4) rotate(-90)" font-size="8.6" fill="#262626"><tspan x="0" y="0" font-style="italic">g</tspan><tspan x="4.9" y="-5.7" font-size="6">(2)</tspan><tspan x="4.9" y="2.1" font-size="6">si</tspan><tspan x="12.4" y="0">(</tspan><tspan font-style="italic">τ</tspan><tspan>)</tspan></text>
<text x="589.60" y="18.30" font-size="7.45" text-anchor="start" fill="#262626" font-weight="normal" font-style="normal" >PGR = 18 MHz</text>
<polyline points="492.40,49.86 492.83,49.86 493.26,49.85 493.69,49.85 494.13,49.84 494.56,49.83 494.99,49.83 495.42,49.82 495.85,49.81 496.28,49.81 496.71,49.80 497.15,49.79 497.58,49.78 498.01,49.77 498.44,49.76 498.87,49.75 499.30,49.74 499.73,49.73 500.17,49.72 500.60,49.71 501.03,49.70 501.46,49.68 501.89,49.67 502.32,49.66 502.75,49.64 503.19,49.63 503.62,49.61 504.05,49.60 504.48,49.58 504.91,49.56 505.34,49.55 505.77,49.53 506.21,49.51 506.64,49.49 507.07,49.47 507.50,49.45 507.93,49.42 508.36,49.40 508.79,49.38 509.23,49.35 509.66,49.32 510.09,49.30 510.52,49.27 510.95,49.24 511.38,49.21 511.81,49.17 512.25,49.14 512.68,49.10 513.11,49.07 513.54,49.03 513.97,48.99 514.40,48.95 514.83,48.91 515.27,48.86 515.70,48.82 516.13,48.77 516.56,48.72 516.99,48.67 517.42,48.61 517.85,48.56 518.29,48.50 518.72,48.44 519.15,48.37 519.58,48.31 520.01,48.24 520.44,48.17 520.87,48.09 521.31,48.02 521.74,47.94 522.17,47.86 522.60,47.77 523.03,47.68 523.46,47.59 523.89,47.49 524.33,47.39 524.76,47.29 525.19,47.18 525.62,47.07 526.05,46.95 526.48,46.83 526.91,46.70 527.35,46.57 527.78,46.44 528.21,46.30 528.64,46.15 529.07,46.00 529.50,45.85 529.93,45.68 530.37,45.52 530.80,45.34 531.23,45.16 531.66,44.97 532.09,44.78 532.52,44.58 532.95,44.37 533.39,44.16 533.82,43.93 534.25,43.70 534.68,43.47 535.11,43.22 535.54,42.96 535.97,42.70 536.41,42.43 536.84,42.15 537.27,41.86 537.70,41.56 538.13,41.25 538.56,40.93 538.99,40.60 539.43,40.26 539.86,39.91 540.29,39.55 540.72,39.18 541.15,38.80 541.58,38.41 542.01,38.00 542.45,37.59 542.88,37.17 543.31,36.73 543.74,36.28 544.17,35.82 544.60,35.35 545.03,34.87 545.47,34.38 545.90,33.87 546.33,33.36 546.76,32.83 547.19,32.29 547.62,31.75 548.05,31.19 548.49,30.62 548.92,30.05 549.35,29.46 549.78,28.87 550.21,28.27 550.64,27.66 551.07,27.04 551.51,26.42 551.94,25.79 552.37,25.15 552.80,24.51 553.23,23.87 553.66,23.23 554.09,22.58 554.53,21.94 554.96,21.29 555.39,20.65 555.82,20.01 556.25,19.37 556.68,18.74 557.11,18.12 557.55,17.50 557.98,16.90 558.41,16.30 558.84,15.71 559.27,15.14 559.70,14.59 560.13,14.05 560.57,13.52 561.00,13.02 561.43,12.54 561.86,12.07 562.29,11.64 562.72,11.22 563.15,10.83 563.59,10.47 564.02,10.13 564.45,9.83 564.88,9.55 565.31,9.30 565.74,9.09 566.17,8.90 566.61,8.75 567.04,8.64 567.47,8.55 567.90,8.50 568.33,8.48 568.76,8.50 569.19,8.55 569.63,8.64 570.06,8.75 570.49,8.90 570.92,9.09 571.35,9.30 571.78,9.55 572.21,9.83 572.65,10.13 573.08,10.47 573.51,10.83 573.94,11.22 574.37,11.64 574.80,12.07 575.23,12.54 575.67,13.02 576.10,13.52 576.53,14.05 576.96,14.59 577.39,15.14 577.82,15.71 578.25,16.30 578.69,16.90 579.12,17.50 579.55,18.12 579.98,18.74 580.41,19.37 580.84,20.01 581.27,20.65 581.71,21.29 582.14,21.94 582.57,22.58 583.00,23.23 583.43,23.87 583.86,24.51 584.29,25.15 584.73,25.79 585.16,26.42 585.59,27.04 586.02,27.66 586.45,28.27 586.88,28.87 587.31,29.46 587.75,30.05 588.18,30.62 588.61,31.19 589.04,31.75 589.47,32.29 589.90,32.83 590.33,33.36 590.77,33.87 591.20,34.38 591.63,34.87 592.06,35.35 592.49,35.82 592.92,36.28 593.35,36.73 593.79,37.17 594.22,37.59 594.65,38.00 595.08,38.41 595.51,38.80 595.94,39.18 596.37,39.55 596.81,39.91 597.24,40.26 597.67,40.60 598.10,40.93 598.53,41.25 598.96,41.56 599.39,41.86 599.83,42.15 600.26,42.43 600.69,42.70 601.12,42.96 601.55,43.22 601.98,43.47 602.41,43.70 602.85,43.93 603.28,44.16 603.71,44.37 604.14,44.58 604.57,44.78 605.00,44.97 605.43,45.16 605.87,45.34 606.30,45.52 606.73,45.68 607.16,45.85 607.59,46.00 608.02,46.15 608.45,46.30 608.89,46.44 609.32,46.57 609.75,46.70 610.18,46.83 610.61,46.95 611.04,47.07 611.47,47.18 611.91,47.29 612.34,47.39 612.77,47.49 613.20,47.59 613.63,47.68 614.06,47.77 614.49,47.86 614.93,47.94 615.36,48.02 615.79,48.09 616.22,48.17 616.65,48.24 617.08,48.31 617.51,48.37 617.95,48.44 618.38,48.50 618.81,48.56 619.24,48.61 619.67,48.67 620.10,48.72 620.53,48.77 620.97,48.82 621.40,48.86 621.83,48.91 622.26,48.95 622.69,48.99 623.12,49.03 623.55,49.07 623.99,49.10 624.42,49.14 624.85,49.17 625.28,49.21 625.71,49.24 626.14,49.27 626.57,49.30 627.01,49.32 627.44,49.35 627.87,49.38 628.30,49.40 628.73,49.42 629.16,49.45 629.59,49.47 630.03,49.49 630.46,49.51 630.89,49.53 631.32,49.55 631.75,49.56 632.18,49.58 632.61,49.60 633.05,49.61 633.48,49.63 633.91,49.64 634.34,49.66 634.77,49.67 635.20,49.68 635.63,49.70 636.07,49.71 636.50,49.72 636.93,49.73 637.36,49.74 637.79,49.75 638.22,49.76 638.65,49.77 639.09,49.78 639.52,49.79 639.95,49.80 640.38,49.81 640.81,49.81 641.24,49.82 641.67,49.83 642.11,49.83 642.54,49.84 642.97,49.85 643.40,49.85" fill="none" stroke="#1a1a1a" stroke-width="0.9" stroke-linejoin="round" stroke-linecap="round" />
<circle cx="493.48" cy="49.83" r="1.7" fill="#3050aa"/>
<circle cx="495.64" cy="49.80" r="1.7" fill="#3050aa"/>
<circle cx="497.79" cy="49.75" r="1.7" fill="#3050aa"/>
<circle cx="499.95" cy="49.69" r="1.7" fill="#3050aa"/>
<circle cx="502.11" cy="49.63" r="1.7" fill="#3050aa"/>
<circle cx="504.26" cy="49.55" r="1.7" fill="#3050aa"/>
<circle cx="506.42" cy="49.45" r="1.7" fill="#3050aa"/>
<circle cx="508.58" cy="49.32" r="1.7" fill="#3050aa"/>
<circle cx="510.74" cy="49.18" r="1.7" fill="#3050aa"/>
<circle cx="512.89" cy="48.99" r="1.7" fill="#3050aa"/>
<circle cx="515.05" cy="48.78" r="1.7" fill="#3050aa"/>
<circle cx="517.21" cy="48.51" r="1.7" fill="#3050aa"/>
<circle cx="519.36" cy="48.19" r="1.7" fill="#3050aa"/>
<circle cx="521.52" cy="47.80" r="1.7" fill="#3050aa"/>
<circle cx="523.68" cy="47.32" r="1.7" fill="#3050aa"/>
<circle cx="525.84" cy="46.75" r="1.7" fill="#3050aa"/>
<circle cx="527.99" cy="46.07" r="1.7" fill="#3050aa"/>
<circle cx="530.15" cy="45.25" r="1.7" fill="#3050aa"/>
<circle cx="532.31" cy="44.27" r="1.7" fill="#3050aa"/>
<circle cx="534.46" cy="43.11" r="1.7" fill="#3050aa"/>
<circle cx="536.62" cy="41.75" r="1.7" fill="#3050aa"/>
<circle cx="538.78" cy="40.15" r="1.7" fill="#3050aa"/>
<circle cx="540.94" cy="38.30" r="1.7" fill="#3050aa"/>
<circle cx="543.09" cy="36.18" r="1.7" fill="#3050aa"/>
<circle cx="545.25" cy="33.78" r="1.7" fill="#3050aa"/>
<circle cx="547.41" cy="31.11" r="1.7" fill="#3050aa"/>
<circle cx="549.56" cy="28.20" r="1.7" fill="#3050aa"/>
<circle cx="551.72" cy="25.10" r="1.7" fill="#3050aa"/>
<circle cx="553.88" cy="21.91" r="1.7" fill="#3050aa"/>
<circle cx="556.04" cy="18.72" r="1.7" fill="#3050aa"/>
<circle cx="558.19" cy="15.70" r="1.7" fill="#3050aa"/>
<circle cx="560.35" cy="12.99" r="1.7" fill="#3050aa"/>
<circle cx="562.51" cy="10.77" r="1.7" fill="#3050aa"/>
<circle cx="564.66" cy="9.20" r="1.7" fill="#3050aa"/>
<circle cx="566.82" cy="8.37" r="1.7" fill="#3050aa"/>
<circle cx="568.98" cy="8.39" r="1.7" fill="#3050aa"/>
<circle cx="571.14" cy="9.34" r="1.7" fill="#3050aa"/>
<circle cx="573.29" cy="11.15" r="1.7" fill="#3050aa"/>
<circle cx="575.45" cy="13.66" r="1.7" fill="#3050aa"/>
<circle cx="577.61" cy="16.70" r="1.7" fill="#3050aa"/>
<circle cx="579.76" cy="20.03" r="1.7" fill="#3050aa"/>
<circle cx="581.92" cy="23.48" r="1.7" fill="#3050aa"/>
<circle cx="584.08" cy="26.87" r="1.7" fill="#3050aa"/>
<circle cx="586.24" cy="30.09" r="1.7" fill="#3050aa"/>
<circle cx="588.39" cy="33.04" r="1.7" fill="#3050aa"/>
<circle cx="590.55" cy="35.70" r="1.7" fill="#3050aa"/>
<circle cx="592.71" cy="38.03" r="1.7" fill="#3050aa"/>
<circle cx="594.86" cy="40.05" r="1.7" fill="#3050aa"/>
<circle cx="597.02" cy="41.77" r="1.7" fill="#3050aa"/>
<circle cx="599.18" cy="43.23" r="1.7" fill="#3050aa"/>
<circle cx="601.34" cy="44.45" r="1.7" fill="#3050aa"/>
<circle cx="603.49" cy="45.46" r="1.7" fill="#3050aa"/>
<circle cx="605.65" cy="46.30" r="1.7" fill="#3050aa"/>
<circle cx="607.81" cy="46.99" r="1.7" fill="#3050aa"/>
<circle cx="609.96" cy="47.56" r="1.7" fill="#3050aa"/>
<circle cx="612.12" cy="48.02" r="1.7" fill="#3050aa"/>
<circle cx="614.28" cy="48.39" r="1.7" fill="#3050aa"/>
<circle cx="616.44" cy="48.70" r="1.7" fill="#3050aa"/>
<circle cx="618.59" cy="48.95" r="1.7" fill="#3050aa"/>
<circle cx="620.75" cy="49.15" r="1.7" fill="#3050aa"/>
<circle cx="622.91" cy="49.31" r="1.7" fill="#3050aa"/>
<circle cx="625.06" cy="49.44" r="1.7" fill="#3050aa"/>
<circle cx="627.22" cy="49.55" r="1.7" fill="#3050aa"/>
<circle cx="629.38" cy="49.64" r="1.7" fill="#3050aa"/>
<circle cx="631.54" cy="49.71" r="1.7" fill="#3050aa"/>
<circle cx="633.69" cy="49.76" r="1.7" fill="#3050aa"/>
<circle cx="635.85" cy="49.81" r="1.7" fill="#3050aa"/>
<circle cx="638.01" cy="49.85" r="1.7" fill="#3050aa"/>
<circle cx="640.16" cy="49.88" r="1.7" fill="#3050aa"/>
<circle cx="642.32" cy="49.90" r="1.7" fill="#3050aa"/>
<circle cx="644.48" cy="49.92" r="1.7" fill="#3050aa"/>
<rect x="492.40" y="7.50" width="151.00" height="42.50" fill="none" stroke="#404040" stroke-width="0.8"/>
<text x="443.00" y="95.90" font-size="15" text-anchor="start" fill="#000" font-weight="bold" font-style="normal" >d</text>
<line x1="484.80" y1="89.90" x2="650.20" y2="89.90" stroke="#404040" stroke-width="0.8" />
<line x1="484.80" y1="246.00" x2="650.20" y2="246.00" stroke="#404040" stroke-width="0.8" />
<line x1="484.80" y1="89.90" x2="484.80" y2="246.00" stroke="#404040" stroke-width="0.8" />
<line x1="650.20" y1="89.90" x2="650.20" y2="246.00" stroke="#e8232b" stroke-width="0.9" />
<line x1="484.80" y1="246.00" x2="484.80" y2="245.00" stroke="#404040" stroke-width="0.8" />
<line x1="484.80" y1="89.90" x2="484.80" y2="90.90" stroke="#404040" stroke-width="0.8" />
<line x1="494.51" y1="246.00" x2="494.51" y2="245.00" stroke="#404040" stroke-width="0.8" />
<line x1="494.51" y1="89.90" x2="494.51" y2="90.90" stroke="#404040" stroke-width="0.8" />
<line x1="501.40" y1="246.00" x2="501.40" y2="245.00" stroke="#404040" stroke-width="0.8" />
<line x1="501.40" y1="89.90" x2="501.40" y2="90.90" stroke="#404040" stroke-width="0.8" />
<line x1="506.74" y1="246.00" x2="506.74" y2="245.00" stroke="#404040" stroke-width="0.8" />
<line x1="506.74" y1="89.90" x2="506.74" y2="90.90" stroke="#404040" stroke-width="0.8" />
<line x1="511.11" y1="246.00" x2="511.11" y2="245.00" stroke="#404040" stroke-width="0.8" />
<line x1="511.11" y1="89.90" x2="511.11" y2="90.90" stroke="#404040" stroke-width="0.8" />
<line x1="514.80" y1="246.00" x2="514.80" y2="245.00" stroke="#404040" stroke-width="0.8" />
<line x1="514.80" y1="89.90" x2="514.80" y2="90.90" stroke="#404040" stroke-width="0.8" />
<line x1="517.99" y1="246.00" x2="517.99" y2="245.00" stroke="#404040" stroke-width="0.8" />
<line x1="517.99" y1="89.90" x2="517.99" y2="90.90" stroke="#404040" stroke-width="0.8" />
<line x1="520.81" y1="246.00" x2="520.81" y2="245.00" stroke="#404040" stroke-width="0.8" />
<line x1="520.81" y1="89.90" x2="520.81" y2="90.90" stroke="#404040" stroke-width="0.8" />
<line x1="523.34" y1="246.00" x2="523.34" y2="244.20" stroke="#404040" stroke-width="0.8" />
<line x1="523.34" y1="89.90" x2="523.34" y2="91.70" stroke="#404040" stroke-width="0.8" />
<line x1="539.93" y1="246.00" x2="539.93" y2="245.00" stroke="#404040" stroke-width="0.8" />
<line x1="539.93" y1="89.90" x2="539.93" y2="90.90" stroke="#404040" stroke-width="0.8" />
<line x1="549.64" y1="246.00" x2="549.64" y2="245.00" stroke="#404040" stroke-width="0.8" />
<line x1="549.64" y1="89.90" x2="549.64" y2="90.90" stroke="#404040" stroke-width="0.8" />
<line x1="556.53" y1="246.00" x2="556.53" y2="245.00" stroke="#404040" stroke-width="0.8" />
<line x1="556.53" y1="89.90" x2="556.53" y2="90.90" stroke="#404040" stroke-width="0.8" />
<line x1="561.87" y1="246.00" x2="561.87" y2="245.00" stroke="#404040" stroke-width="0.8" />
<line x1="561.87" y1="89.90" x2="561.87" y2="90.90" stroke="#404040" stroke-width="0.8" />
<line x1="566.24" y1="246.00" x2="566.24" y2="245.00" stroke="#404040" stroke-width="0.8" />
<line x1="566.24" y1="89.90" x2="566.24" y2="90.90" stroke="#404040" stroke-width="0.8" />
<line x1="569.93" y1="246.00" x2="569.93" y2="245.00" stroke="#404040" stroke-width="0.8" />
<line x1="569.93" y1="89.90" x2="569.93" y2="90.90" stroke="#404040" stroke-width="0.8" />
<line x1="573.13" y1="246.00" x2="573.13" y2="245.00" stroke="#404040" stroke-width="0.8" />
<line x1="573.13" y1="89.90" x2="573.13" y2="90.90" stroke="#404040" stroke-width="0.8" />
<line x1="575.95" y1="246.00" x2="575.95" y2="245.00" stroke="#404040" stroke-width="0.8" />
<line x1="575.95" y1="89.90" x2="575.95" y2="90.90" stroke="#404040" stroke-width="0.8" />
<line x1="578.47" y1="246.00" x2="578.47" y2="244.20" stroke="#404040" stroke-width="0.8" />
<line x1="578.47" y1="89.90" x2="578.47" y2="91.70" stroke="#404040" stroke-width="0.8" />
<line x1="595.07" y1="246.00" x2="595.07" y2="245.00" stroke="#404040" stroke-width="0.8" />
<line x1="595.07" y1="89.90" x2="595.07" y2="90.90" stroke="#404040" stroke-width="0.8" />
<line x1="604.78" y1="246.00" x2="604.78" y2="245.00" stroke="#404040" stroke-width="0.8" />
<line x1="604.78" y1="89.90" x2="604.78" y2="90.90" stroke="#404040" stroke-width="0.8" />
<line x1="611.66" y1="246.00" x2="611.66" y2="245.00" stroke="#404040" stroke-width="0.8" />
<line x1="611.66" y1="89.90" x2="611.66" y2="90.90" stroke="#404040" stroke-width="0.8" />
<line x1="617.01" y1="246.00" x2="617.01" y2="245.00" stroke="#404040" stroke-width="0.8" />
<line x1="617.01" y1="89.90" x2="617.01" y2="90.90" stroke="#404040" stroke-width="0.8" />
<line x1="621.37" y1="246.00" x2="621.37" y2="245.00" stroke="#404040" stroke-width="0.8" />
<line x1="621.37" y1="89.90" x2="621.37" y2="90.90" stroke="#404040" stroke-width="0.8" />
<line x1="625.06" y1="246.00" x2="625.06" y2="245.00" stroke="#404040" stroke-width="0.8" />
<line x1="625.06" y1="89.90" x2="625.06" y2="90.90" stroke="#404040" stroke-width="0.8" />
<line x1="628.26" y1="246.00" x2="628.26" y2="245.00" stroke="#404040" stroke-width="0.8" />
<line x1="628.26" y1="89.90" x2="628.26" y2="90.90" stroke="#404040" stroke-width="0.8" />
<line x1="631.08" y1="246.00" x2="631.08" y2="245.00" stroke="#404040" stroke-width="0.8" />
<line x1="631.08" y1="89.90" x2="631.08" y2="90.90" stroke="#404040" stroke-width="0.8" />
<line x1="633.60" y1="246.00" x2="633.60" y2="244.20" stroke="#404040" stroke-width="0.8" />
<line x1="633.60" y1="89.90" x2="633.60" y2="91.70" stroke="#404040" stroke-width="0.8" />
<line x1="650.20" y1="246.00" x2="650.20" y2="245.00" stroke="#404040" stroke-width="0.8" />
<line x1="650.20" y1="89.90" x2="650.20" y2="90.90" stroke="#404040" stroke-width="0.8" />
<line x1="484.80" y1="246.00" x2="485.80" y2="246.00" stroke="#404040" stroke-width="0.8" />
<line x1="484.80" y1="236.84" x2="485.80" y2="236.84" stroke="#404040" stroke-width="0.8" />
<line x1="484.80" y1="230.34" x2="485.80" y2="230.34" stroke="#404040" stroke-width="0.8" />
<line x1="484.80" y1="225.29" x2="485.80" y2="225.29" stroke="#404040" stroke-width="0.8" />
<line x1="484.80" y1="221.17" x2="485.80" y2="221.17" stroke="#404040" stroke-width="0.8" />
<line x1="484.80" y1="217.69" x2="485.80" y2="217.69" stroke="#404040" stroke-width="0.8" />
<line x1="484.80" y1="214.67" x2="485.80" y2="214.67" stroke="#404040" stroke-width="0.8" />
<line x1="484.80" y1="212.01" x2="485.80" y2="212.01" stroke="#404040" stroke-width="0.8" />
<line x1="484.80" y1="209.63" x2="486.60" y2="209.63" stroke="#404040" stroke-width="0.8" />
<line x1="484.80" y1="193.97" x2="485.80" y2="193.97" stroke="#404040" stroke-width="0.8" />
<line x1="484.80" y1="184.80" x2="485.80" y2="184.80" stroke="#404040" stroke-width="0.8" />
<line x1="484.80" y1="178.30" x2="485.80" y2="178.30" stroke="#404040" stroke-width="0.8" />
<line x1="484.80" y1="173.26" x2="485.80" y2="173.26" stroke="#404040" stroke-width="0.8" />
<line x1="484.80" y1="169.14" x2="485.80" y2="169.14" stroke="#404040" stroke-width="0.8" />
<line x1="484.80" y1="165.66" x2="485.80" y2="165.66" stroke="#404040" stroke-width="0.8" />
<line x1="484.80" y1="162.64" x2="485.80" y2="162.64" stroke="#404040" stroke-width="0.8" />
<line x1="484.80" y1="159.98" x2="485.80" y2="159.98" stroke="#404040" stroke-width="0.8" />
<line x1="484.80" y1="157.60" x2="486.60" y2="157.60" stroke="#404040" stroke-width="0.8" />
<line x1="484.80" y1="141.93" x2="485.80" y2="141.93" stroke="#404040" stroke-width="0.8" />
<line x1="484.80" y1="132.77" x2="485.80" y2="132.77" stroke="#404040" stroke-width="0.8" />
<line x1="484.80" y1="126.27" x2="485.80" y2="126.27" stroke="#404040" stroke-width="0.8" />
<line x1="484.80" y1="121.23" x2="485.80" y2="121.23" stroke="#404040" stroke-width="0.8" />
<line x1="484.80" y1="117.11" x2="485.80" y2="117.11" stroke="#404040" stroke-width="0.8" />
<line x1="484.80" y1="113.62" x2="485.80" y2="113.62" stroke="#404040" stroke-width="0.8" />
<line x1="484.80" y1="110.61" x2="485.80" y2="110.61" stroke="#404040" stroke-width="0.8" />
<line x1="484.80" y1="107.94" x2="485.80" y2="107.94" stroke="#404040" stroke-width="0.8" />
<line x1="484.80" y1="105.56" x2="486.60" y2="105.56" stroke="#404040" stroke-width="0.8" />
<line x1="484.80" y1="89.90" x2="485.80" y2="89.90" stroke="#404040" stroke-width="0.8" />
<line x1="650.20" y1="243.74" x2="649.20" y2="243.74" stroke="#e8232b" stroke-width="0.8" />
<line x1="650.20" y1="240.92" x2="649.20" y2="240.92" stroke="#e8232b" stroke-width="0.8" />
<line x1="650.20" y1="238.40" x2="648.40" y2="238.40" stroke="#e8232b" stroke-width="0.8" />
<line x1="650.20" y1="221.81" x2="649.20" y2="221.81" stroke="#e8232b" stroke-width="0.8" />
<line x1="650.20" y1="212.11" x2="649.20" y2="212.11" stroke="#e8232b" stroke-width="0.8" />
<line x1="650.20" y1="205.23" x2="649.20" y2="205.23" stroke="#e8232b" stroke-width="0.8" />
<line x1="650.20" y1="199.89" x2="649.20" y2="199.89" stroke="#e8232b" stroke-width="0.8" />
<line x1="650.20" y1="195.52" x2="649.20" y2="195.52" stroke="#e8232b" stroke-width="0.8" />
<line x1="650.20" y1="191.84" x2="649.20" y2="191.84" stroke="#e8232b" stroke-width="0.8" />
<line x1="650.20" y1="188.64" x2="649.20" y2="188.64" stroke="#e8232b" stroke-width="0.8" />
<line x1="650.20" y1="185.82" x2="649.20" y2="185.82" stroke="#e8232b" stroke-width="0.8" />
<line x1="650.20" y1="183.30" x2="648.40" y2="183.30" stroke="#e8232b" stroke-width="0.8" />
<line x1="650.20" y1="166.71" x2="649.20" y2="166.71" stroke="#e8232b" stroke-width="0.8" />
<line x1="650.20" y1="157.01" x2="649.20" y2="157.01" stroke="#e8232b" stroke-width="0.8" />
<line x1="650.20" y1="150.13" x2="649.20" y2="150.13" stroke="#e8232b" stroke-width="0.8" />
<line x1="650.20" y1="144.79" x2="649.20" y2="144.79" stroke="#e8232b" stroke-width="0.8" />
<line x1="650.20" y1="140.42" x2="649.20" y2="140.42" stroke="#e8232b" stroke-width="0.8" />
<line x1="650.20" y1="136.74" x2="649.20" y2="136.74" stroke="#e8232b" stroke-width="0.8" />
<line x1="650.20" y1="133.54" x2="649.20" y2="133.54" stroke="#e8232b" stroke-width="0.8" />
<line x1="650.20" y1="130.72" x2="649.20" y2="130.72" stroke="#e8232b" stroke-width="0.8" />
<line x1="650.20" y1="128.20" x2="648.40" y2="128.20" stroke="#e8232b" stroke-width="0.8" />
<line x1="650.20" y1="111.61" x2="649.20" y2="111.61" stroke="#e8232b" stroke-width="0.8" />
<line x1="650.20" y1="101.91" x2="649.20" y2="101.91" stroke="#e8232b" stroke-width="0.8" />
<line x1="650.20" y1="95.03" x2="649.20" y2="95.03" stroke="#e8232b" stroke-width="0.8" />
<text x="480.50" y="108.96" font-size="10.3" text-anchor="end" fill="#3656b0">10<tspan font-size="7.00" dy="-4.2">1</tspan></text>
<text x="480.50" y="161.00" font-size="10.3" text-anchor="end" fill="#3656b0">10<tspan font-size="7.00" dy="-4.2">0</tspan></text>
<text x="480.50" y="213.03" font-size="10.3" text-anchor="end" fill="#3656b0">10<tspan font-size="7.00" dy="-4.2">−1</tspan></text>
<text x="654.60" y="131.60" font-size="10.3" text-anchor="start" fill="#e8232b">10<tspan font-size="7.00" dy="-4.2">4</tspan></text>
<text x="654.60" y="186.70" font-size="10.3" text-anchor="start" fill="#e8232b">10<tspan font-size="7.00" dy="-4.2">3</tspan></text>
<text x="654.60" y="241.80" font-size="10.3" text-anchor="start" fill="#e8232b">10<tspan font-size="7.00" dy="-4.2">2</tspan></text>
<text x="523.34" y="260.7" font-size="10.3" text-anchor="middle" fill="#262626">10<tspan font-size="7.00" dy="-4.2">−1</tspan></text>
<text x="578.47" y="260.7" font-size="10.3" text-anchor="middle" fill="#262626">10<tspan font-size="7.00" dy="-4.2">0</tspan></text>
<text x="633.60" y="260.7" font-size="10.3" text-anchor="middle" fill="#262626">10<tspan font-size="7.00" dy="-4.2">1</tspan></text>
<text x="567.90" y="275.70" font-size="10.3" text-anchor="middle" fill="#262626" font-weight="normal" font-style="normal" >Pump power (μW)</text>
<text transform="translate(453.6,167.9) rotate(-90)" font-size="10.3" text-anchor="middle" fill="#3656b0">PGR (MHz)</text>
<text transform="translate(684.6,168.4) rotate(-90)" font-size="10.3" text-anchor="middle" fill="#e8232b">CAR</text>
<clipPath id="cd"><rect x="484.80" y="89.90" width="165.40" height="156.10"/></clipPath>
<line x1="493.80" y1="245.98" x2="647.40" y2="100.83" stroke="#3656b0" stroke-width="1.1" clip-path="url(#cd)"/>
<line x1="493.80" y1="89.70" x2="647.40" y2="238.50" stroke="#e8232b" stroke-width="1.1" clip-path="url(#cd)"/>
<circle cx="493.8" cy="239.2" r="2.45" fill="#3656b0"/>
<circle cx="516" cy="222.3" r="2.45" fill="#3656b0"/>
<circle cx="531.6" cy="207.7" r="2.45" fill="#3656b0"/>
<circle cx="548.8" cy="193.5" r="2.45" fill="#3656b0"/>
<circle cx="566" cy="176" r="2.45" fill="#3656b0"/>
<circle cx="582.4" cy="161.4" r="2.45" fill="#3656b0"/>
<circle cx="598.6" cy="146.5" r="2.45" fill="#3656b0"/>
<circle cx="613.8" cy="132.8" r="2.45" fill="#3656b0"/>
<circle cx="631" cy="116.8" r="2.45" fill="#3656b0"/>
<circle cx="647.4" cy="101.7" r="2.45" fill="#3656b0"/>
<circle cx="493.7" cy="99.4" r="2.45" fill="#e8232b"/>
<circle cx="516.2" cy="110.7" r="2.45" fill="#e8232b"/>
<circle cx="531.3" cy="125.3" r="2.45" fill="#e8232b"/>
<circle cx="548.9" cy="142.1" r="2.45" fill="#e8232b"/>
<circle cx="565.8" cy="161" r="2.45" fill="#e8232b"/>
<circle cx="582.6" cy="172" r="2.45" fill="#e8232b"/>
<circle cx="598.6" cy="190.4" r="2.45" fill="#e8232b"/>
<circle cx="613.8" cy="203.8" r="2.45" fill="#e8232b"/>
<circle cx="631.1" cy="221.1" r="2.45" fill="#e8232b"/>
<circle cx="647.2" cy="238.7" r="2.45" fill="#e8232b"/>
</svg></body></html>
